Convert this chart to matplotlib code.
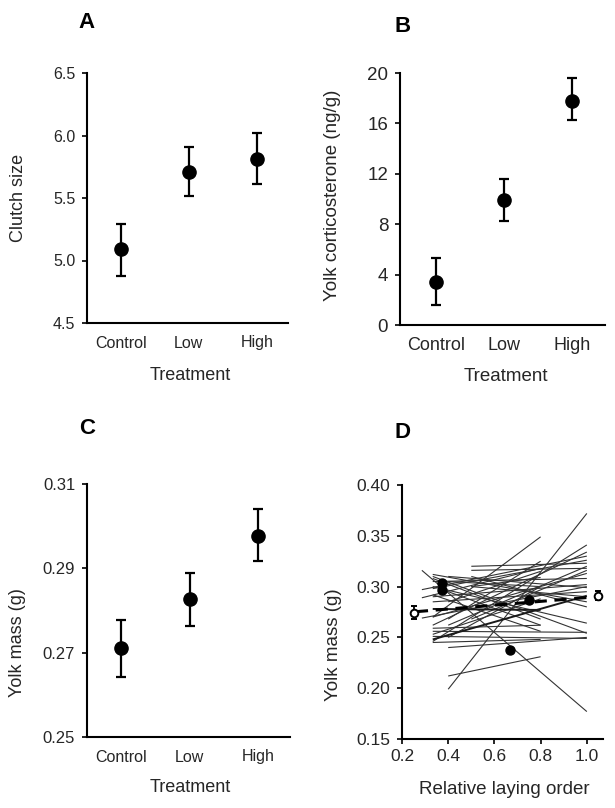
import matplotlib
matplotlib.use("Agg")
import matplotlib.pyplot as plt

plt.rcParams["font.family"] = ["Liberation Sans", "DejaVu Sans"]

TXT = "#262626"

# --- data -----------------------------------------------------------------
treatments = ["Control", "Low", "High"]

clutch_mean = [5.09, 5.71, 5.81]
clutch_lo = [4.88, 5.52, 5.61]
clutch_hi = [5.29, 5.91, 6.02]

cort_mean = [3.4, 9.9, 17.8]
cort_lo = [1.6, 8.25, 16.25]
cort_hi = [5.3, 11.55, 19.6]

yolk_mean = [0.2710, 0.2828, 0.2976]
yolk_lo = [0.2643, 0.2764, 0.2917]
yolk_hi = [0.2777, 0.2890, 0.3041]

# panel D: per-clutch regression segments (x0, y0, x1, y1)
clutch_lines = [
    (0.40, 0.199, 1.0, 0.372), (0.286, 0.316, 1.0, 0.177),
    (0.333, 0.246, 1.0, 0.341), (0.333, 0.262, 1.0, 0.334),
    (0.286, 0.297, 1.0, 0.330), (0.333, 0.298, 1.0, 0.326),
    (0.50, 0.320, 1.0, 0.323), (0.50, 0.316, 1.0, 0.318),
    (0.333, 0.270, 1.0, 0.313), (0.333, 0.305, 1.0, 0.308),
    (0.333, 0.290, 1.0, 0.302), (0.40, 0.310, 1.0, 0.299),
    (0.333, 0.285, 1.0, 0.295), (0.50, 0.300, 1.0, 0.290),
    (0.333, 0.312, 1.0, 0.285), (0.333, 0.300, 1.0, 0.264),
    (0.333, 0.310, 1.0, 0.254), (0.333, 0.256, 1.0, 0.255),
    (0.333, 0.251, 1.0, 0.249), (0.40, 0.240, 1.0, 0.250),
    (0.286, 0.269, 1.0, 0.300), (0.40, 0.212, 0.8, 0.231),
    (0.333, 0.270, 0.8, 0.349), (0.333, 0.259, 0.8, 0.262),
    (0.333, 0.245, 0.8, 0.248), (0.40, 0.305, 0.8, 0.300),
    (0.40, 0.295, 0.8, 0.262), (0.40, 0.285, 0.8, 0.315),
    (0.40, 0.268, 0.8, 0.325), (0.50, 0.300, 0.8, 0.309),
    (0.333, 0.308, 0.8, 0.268), (0.286, 0.289, 0.8, 0.318),
    (0.50, 0.268, 1.0, 0.316), (0.333, 0.292, 0.8, 0.256),
    (0.40, 0.262, 1.0, 0.320), (0.333, 0.253, 0.8, 0.288),
    (0.50, 0.310, 1.0, 0.280), (0.40, 0.250, 0.8, 0.300),
]
bold_lines = [(0.333, 0.248, 1.0, 0.291), (0.333, 0.278, 0.8, 0.277)]

single_x = [0.374, 0.374, 0.748, 0.668]
single_y = [0.3032, 0.2968, 0.2870, 0.2380]

mean_x = [0.252, 1.050]
mean_y = [0.2745, 0.2912]
mean_err = [0.0065, 0.0045]
trend_x = [0.26, 1.03]
trend_y = [0.2753, 0.2898]


def style_axis(ax, tick_fs, xtick_fs, x_ticks=False):
    for s in ("top", "right"):
        ax.spines[s].set_visible(False)
    for s in ("left", "bottom"):
        ax.spines[s].set_linewidth(1.5)
    ax.tick_params(axis="y", direction="out", length=3.5, width=1.2,
                   labelsize=tick_fs, labelcolor=TXT, pad=5)
    if x_ticks:
        ax.tick_params(axis="x", direction="out", length=3.5, width=1.2,
                       labelsize=xtick_fs, labelcolor=TXT, pad=4)
    else:
        ax.tick_params(axis="x", length=0, labelsize=xtick_fs,
                       labelcolor=TXT, pad=9)


def treatment_panel(ax, mean, lo, hi, ylim, yticks, fmt, ylabel,
                    tick_fs, xtick_fs, lab_fs, xlim):
    x = range(1, len(treatments) + 1)
    err = [[m - l for m, l in zip(mean, lo)], [h - m for m, h in zip(mean, hi)]]
    ax.errorbar(x, mean, yerr=err, fmt="o", color="black", ms=9.5,
                elinewidth=1.6, capsize=3.8, capthick=1.6, clip_on=False)
    ax.set_xlim(*xlim)
    ax.set_ylim(*ylim)
    ax.set_yticks(yticks)
    ax.set_yticklabels([fmt.format(v) for v in yticks])
    ax.set_xticks(list(x))
    ax.set_xticklabels(treatments)
    ax.set_xlabel("Treatment", fontsize=lab_fs, color=TXT)
    ax.set_ylabel(ylabel, fontsize=lab_fs, color=TXT)
    style_axis(ax, tick_fs, xtick_fs)


W, H = 615, 808
fig = plt.figure(figsize=(W / 100, H / 100), dpi=100)


def add_axes(left, right, top, bottom):
    return fig.add_axes([left / W, 1 - bottom / H, (right - left) / W, (bottom - top) / H])


axA = add_axes(87, 288, 73, 323)
axB = add_axes(400, 605, 73, 325)
axC = add_axes(87, 290, 484, 737)
axD = add_axes(402, 603, 485, 739)

treatment_panel(axA, clutch_mean, clutch_lo, clutch_hi, (4.5, 6.5),
                [4.5, 5.0, 5.5, 6.0, 6.5], "{:.1f}", "Clutch size",
                11.5, 11.5, 13, (0.5, 3.46))
axA.yaxis.set_label_coords(-0.30, 0.5)
axA.xaxis.set_label_coords(0.512, -0.175)

treatment_panel(axB, cort_mean, cort_lo, cort_hi, (0, 20),
                [0, 4, 8, 12, 16, 20], "{:d}", "Yolk corticosterone (ng/g)",
                13.5, 13, 13.5, (0.47, 3.49))
axB.yaxis.set_label_coords(-0.29, 0.515)
axB.xaxis.set_label_coords(0.516, -0.172)

treatment_panel(axC, yolk_mean, yolk_lo, yolk_hi, (0.25, 0.31),
                [0.25, 0.27, 0.29, 0.31], "{:.2f}", "Yolk mass (g)",
                12, 11.5, 13, (0.5, 3.46))
axC.yaxis.set_label_coords(-0.30, 0.375)
axC.xaxis.set_label_coords(0.507, -0.167)

# panel D
for x0, y0, x1, y1 in clutch_lines:
    axD.plot([x0, x1], [y0, y1], color="#333333", lw=0.8, solid_capstyle="butt")
for x0, y0, x1, y1 in bold_lines:
    axD.plot([x0, x1], [y0, y1], color="#1a1a1a", lw=1.4, solid_capstyle="butt")
axD.plot(single_x, single_y, "o", color="black", ms=6.5, zorder=4)
axD.plot(trend_x, trend_y, color="black", lw=2.2, dashes=(4, 2.5), zorder=5)
axD.errorbar(mean_x, mean_y, yerr=mean_err, fmt="o", mfc="white", mec="black",
             mew=1.4, ms=5.5, color="black", elinewidth=1.3, capsize=2.5,
             capthick=1.3, zorder=6, clip_on=False)
axD.set_xlim(0.2, 1.07)
axD.set_ylim(0.15, 0.40)
d_xticks = [0.2, 0.4, 0.6, 0.8, 1.0]
d_yticks = [0.15, 0.20, 0.25, 0.30, 0.35, 0.40]
axD.set_xticks(d_xticks)
axD.set_xticklabels(["{:.1f}".format(v) for v in d_xticks])
axD.set_yticks(d_yticks)
axD.set_yticklabels(["{:.2f}".format(v) for v in d_yticks])
axD.set_xlabel("Relative laying order", fontsize=13.5, color=TXT)
axD.set_ylabel("Yolk mass (g)", fontsize=13.5, color=TXT)
style_axis(axD, 12.5, 12.5, x_ticks=True)
axD.yaxis.set_label_coords(-0.30, 0.37)
axD.xaxis.set_label_coords(0.509, -0.167)

# panel letters
for lbl, px, py in [("A", 87, 22), ("B", 403, 27), ("C", 87, 429), ("D", 403, 432)]:
    fig.text(px / W, 1 - py / H, lbl, fontsize=16, fontweight="bold",
             ha="center", va="center", color="black")

fig.savefig("out.png", dpi=100)
